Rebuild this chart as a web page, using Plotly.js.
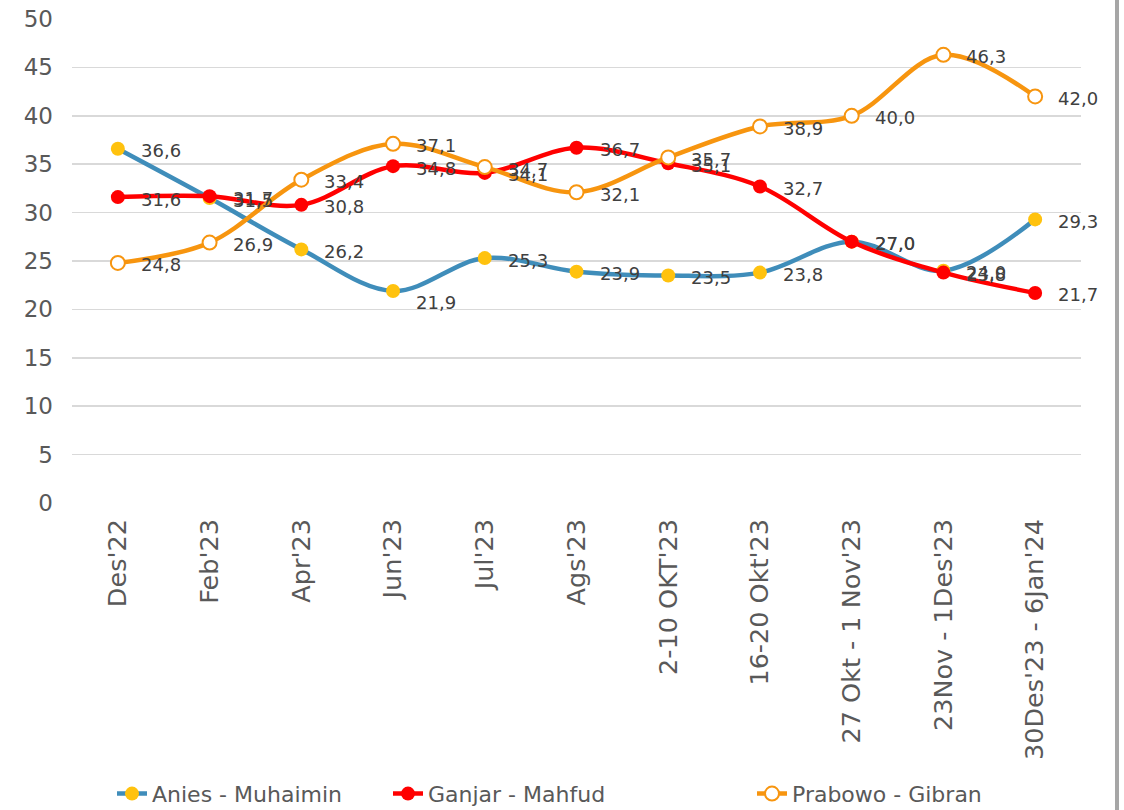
<!DOCTYPE html>
<html>
<head>
<meta charset="utf-8">
<script src="https://cdn.plot.ly/plotly-3.0.1.min.js"></script>
<style>
html,body{margin:0;padding:0;background:#fff;}
#chart{width:1124px;height:810px;}
</style>
</head>
<body>
<div id="chart"></div>
<script>
const categories = ["Des'22","Feb'23","Apr'23","Jun'23","Jul'23","Ags'23","2-10 OKT'23","16-20 Okt'23","27 Okt - 1 Nov'23","23Nov - 1Des'23","30Des'23 - 6Jan'24"];
const anies   = [36.6, 31.5, 26.2, 21.9, 25.3, 23.9, 23.5, 23.8, 27.0, 24.0, 29.3];
const ganjar  = [31.6, 31.7, 30.8, 34.8, 34.1, 36.7, 35.1, 32.7, 27.0, 23.8, 21.7];
const prabowo = [24.8, 26.9, 33.4, 37.1, 34.7, 32.1, 35.7, 38.9, 40.0, 46.3, 42.0];
const yTicks = [0,5,10,15,20,25,30,35,40,45,50];

const FONT = 'Century Gothic, "DejaVu Sans", sans-serif';
const fmt = v => v.toFixed(1).replace('.', ',');

function series(name, vals, lineColor, marker, legendId) {
  return {
    type: 'scatter',
    mode: 'lines+markers',
    name: name,
    x: categories,
    y: vals,
    line: {color: lineColor, width: 4.5, shape: 'spline', smoothing: 1},
    marker: marker,
    cliponaxis: false,
    hoverinfo: 'skip',
    legend: legendId
  };
}

const traces = [
  series('Anies - Muhaimin', anies, '#3F8DBA', {color: '#FFC20E', size: 14, line: {width: 0}}, 'legend'),
  series('Ganjar - Mahfud', ganjar, '#FF0000', {color: '#FF0000', size: 14, line: {width: 0}}, 'legend2'),
  series('Prabowo - Gibran', prabowo, '#F7950F', {color: '#FFFFFF', size: 14, line: {color: '#F7950F', width: 2}}, 'legend3')
];

// data labels placed via annotations (right of each point)
const annotations = [];
[anies, ganjar, prabowo].forEach(vals => {
  vals.forEach((v, i) => {
    annotations.push({
      x: categories[i], y: v, xref: 'x', yref: 'y',
      text: fmt(v), showarrow: false,
      xanchor: 'left', yanchor: 'middle',
      xshift: 21, yshift: (vals === anies && i === 3) ? -11 : -2,
      font: {family: FONT, size: 18, color: '#404040'}
    });
  });
});

const legendBase = {
  orientation: 'h',
  xref: 'container', yref: 'container',
  xanchor: 'left',
  y: 0.02, yanchor: 'middle',
  font: {family: FONT, size: 22, color: '#595959'},
  bgcolor: 'rgba(0,0,0,0)'
};

const layout = {
  width: 1124, height: 810,
  margin: {l: 72, r: 43, t: 19, b: 307},
  paper_bgcolor: '#fff', plot_bgcolor: '#fff',
  font: {family: FONT, color: '#595959'},
  xaxis: {
    type: 'category',
    range: [-0.5, 10.5],
    tickangle: -90,
    tickfont: {family: FONT, size: 25.5, color: '#595959'},
    showgrid: false, zeroline: false, showline: false,
    ticks: '', ticklen: 0,
    ticklabelstandoff: 10
  },
  yaxis: {
    range: [0, 50],
    tickvals: yTicks,
    ticktext: yTicks.map(String),
    tickfont: {family: FONT, size: 23, color: '#595959'},
    showgrid: true, gridcolor: '#D9D9D9', gridwidth: 1.5,
    zeroline: false, showline: false, ticks: '',
    ticklabelstandoff: 18
  },
  showlegend: true,
  legend:  Object.assign({}, legendBase, {x: 112 / 1124}),
  legend2: Object.assign({}, legendBase, {x: 388 / 1124}),
  legend3: Object.assign({}, legendBase, {x: 752 / 1124}),
  annotations: annotations,
  shapes: [{
    type: 'line', xref: 'paper', yref: 'paper',
    x0: (1117 - 72) / 1009, x1: (1117 - 72) / 1009,
    y0: -307 / 484, y1: 1 + 19 / 484,
    line: {color: '#A6A6A6', width: 4}
  }]
};

Plotly.newPlot('chart', traces, layout, {staticPlot: true, displayModeBar: false});
</script>
</body>
</html>
